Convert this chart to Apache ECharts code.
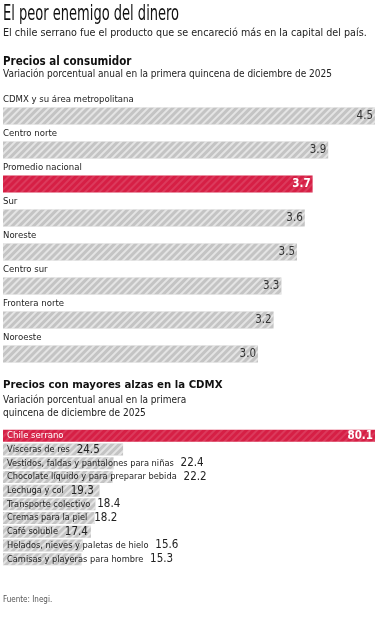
<!DOCTYPE html>
<html>
<head>
<meta charset="utf-8">
<script src="https://cdn.jsdelivr.net/npm/echarts@6/dist/echarts.min.js"></script>
<style>
  html, body { margin: 0; padding: 0; background: #fff; }
  #main { width: 377px; height: 620px; }
</style>
</head>
<body>
<div id="main"></div>
<script>
// precios al consumidor por region
var regiones = ['CDMX y su área metropolitana', 'Centro norte', 'Promedio nacional', 'Sur', 'Noreste', 'Centro sur', 'Frontera norte', 'Noroeste'];
var variacionRegion = [4.5, 3.9, 3.7, 3.6, 3.5, 3.3, 3.2, 3.0];
var regionDestacada = 'Promedio nacional';

// productos con mayores alzas en la CDMX
var productos = ['Chile serrano', 'Vísceras de res', 'Vestidos, faldas y pantalones para niñas', 'Chocolate líquido y para preparar bebida', 'Lechuga y col', 'Transporte colectivo', 'Cremas para la piel', 'Café soluble', 'Helados, nieves y paletas de hielo', 'Camisas y playeras para hombre'];
var variacionProducto = [80.1, 24.5, 22.4, 22.2, 19.3, 18.4, 18.2, 17.4, 15.6, 15.3];
var productoDestacado = 'Chile serrano';

var rojo = '#d61f45';
var gris = '#c4c4c4';
var letra = '"DejaVu Sans Condensed", sans-serif';

// rayas diagonales de las barras
function rayas(color) {
  return {
    symbol: 'rect',
    symbolSize: 1,
    dashArrayX: [1, 0],
    dashArrayY: [2, 2.2],
    rotation: -Math.PI / 4,
    color: color
  };
}

function unDecimal(p) {
  return Number(p.value).toFixed(1);
}

var chart = echarts.init(document.getElementById('main'));

var datosRegion = variacionRegion.map(function (v, i) {
  var item = { value: v };
  if (regiones[i] === regionDestacada) {
    item.itemStyle = { color: rojo, decal: rayas('rgba(255,255,255,0.12)') };
    item.label = { color: '#fff', fontWeight: 'bold' };
  }
  return item;
});

var datosProducto = variacionProducto.map(function (v, i) {
  var item = { value: v };
  if (productos[i] === productoDestacado) {
    item.itemStyle = { color: rojo, decal: rayas('rgba(255,255,255,0.12)') };
    item.label = { formatter: '{w|{b}}' };
  }
  return item;
});

var valorDestacado = variacionProducto.map(function (v, i) {
  return { value: v, label: { show: productos[i] === productoDestacado } };
});

var option = {
  animation: false,
  textStyle: { fontFamily: letra },
  graphic: [{
    type: 'text',
    left: 3,
    top: 4,
    scaleX: 0.69,
    style: { text: 'El peor enemigo del dinero', font: '21px ' + letra, fill: '#111' }
  }],
  title: [
    { text: 'El chile serrano fue el producto que se encareció más en la capital del país.', left: 3, top: 28, padding: 0,
      textStyle: { fontSize: 10.7, fontWeight: 'normal', color: '#222', fontFamily: letra } },
    { text: 'Precios al consumidor', left: 3, top: 56, padding: 0,
      textStyle: { fontSize: 11.5, fontWeight: 'bold', color: '#111', fontFamily: letra } },
    { text: 'Variación porcentual anual en la primera quincena de diciembre de 2025', left: 3, top: 69, padding: 0,
      textStyle: { fontSize: 10, fontWeight: 'normal', color: '#222', fontFamily: letra } },
    { text: 'Precios con mayores alzas en la CDMX', left: 3, top: 380, padding: 0,
      textStyle: { fontSize: 11.3, fontWeight: 'bold', color: '#111', fontFamily: letra } },
    { text: 'Variación porcentual anual en la primera\nquincena de diciembre de 2025', left: 3, top: 394, padding: 0,
      textStyle: { fontSize: 10, lineHeight: 13, fontWeight: 'normal', color: '#222', fontFamily: letra } },
    { text: 'Fuente: Inegi.', left: 3, top: 596, padding: 0,
      textStyle: { fontSize: 8, fontWeight: 'normal', color: '#555', fontFamily: letra } }
  ],
  grid: [
    { left: 3, width: 372, top: 99, height: 272 },
    { left: 3, width: 372, top: 429, height: 137 }
  ],
  xAxis: [
    { gridIndex: 0, type: 'value', min: -0.27, max: 4.5, startValue: -0.27, show: false },
    { gridIndex: 1, type: 'value', min: -2, max: 80.1, startValue: -2, show: false }
  ],
  yAxis: [
    { gridIndex: 0, type: 'category', data: regiones, inverse: true, show: false },
    { gridIndex: 1, type: 'category', data: productos, inverse: true, show: false }
  ],
  series: [
    {
      type: 'bar', xAxisIndex: 0, yAxisIndex: 0, data: datosRegion,
      barWidth: 17, silent: true,
      itemStyle: { color: gris, decal: rayas('rgba(255,255,255,0.55)') },
      label: { show: true, position: 'insideRight', distance: 2, fontSize: 11.5, color: '#333',
        fontFamily: letra, formatter: unDecimal }
    },
    {
      // nombres de region arriba de cada barra
      type: 'bar', xAxisIndex: 0, yAxisIndex: 0, data: variacionRegion,
      barWidth: 17, barGap: '-100%', silent: true,
      itemStyle: { color: 'transparent' },
      label: { show: true, position: 'insideLeft', distance: 0, offset: [0, -16], formatter: '{b}',
        fontSize: 9.5, color: '#222', fontFamily: letra }
    },
    {
      type: 'bar', xAxisIndex: 1, yAxisIndex: 1, data: datosProducto,
      barWidth: 12, silent: true,
      itemStyle: { color: gris, decal: rayas('rgba(255,255,255,0.55)') },
      label: {
        show: true, position: 'insideLeft', distance: 4, color: '#222',
        formatter: function (p) {
          return '{n|' + p.name + '}  {v|' + p.value.toFixed(1) + '}';
        },
        rich: {
          n: { fontSize: 9.2, color: '#222', fontFamily: letra },
          v: { fontSize: 11.5, color: '#222', fontFamily: letra },
          w: { fontSize: 9.5, color: '#fff', fontFamily: letra }
        }
      }
    },
    {
      // valor del producto destacado
      type: 'bar', xAxisIndex: 1, yAxisIndex: 1, data: valorDestacado,
      barWidth: 12, barGap: '-100%', silent: true,
      itemStyle: { color: 'transparent' },
      label: { position: 'insideRight', distance: 2, fontSize: 11.5, fontWeight: 'bold', color: '#fff',
        fontFamily: letra, formatter: unDecimal }
    }
  ]
};

chart.setOption(option);
</script>
</body>
</html>
